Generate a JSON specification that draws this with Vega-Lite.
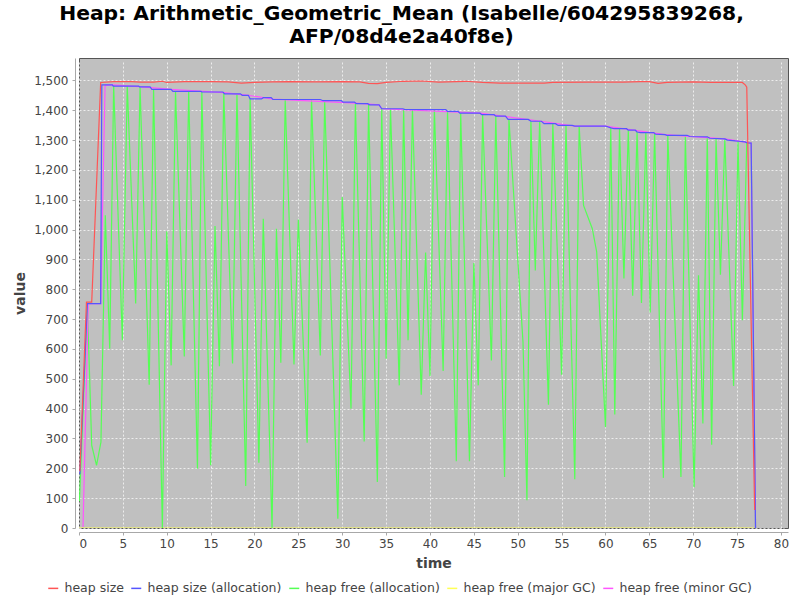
{
  "$schema": "https://vega.github.io/schema/vega-lite/v6.json",
  "autosize": "none",
  "width": 709,
  "height": 470,
  "padding": {"left": 79, "top": 58, "right": 12, "bottom": 72},
  "background": "white",
  "title": {
    "text": ["Heap: Arithmetic_Geometric_Mean (Isabelle/604295839268,", "AFP/08d4e2a40f8e)"],
    "font": "DejaVu Sans",
    "fontSize": 20.3,
    "fontWeight": "bold",
    "color": "black",
    "anchor": "middle",
    "dx": -32,
    "lineHeight": 23,
    "offset": 11
  },
  "config": {
    "view": {"fill": "#c0c0c0", "stroke": "#555555", "strokeWidth": 1},
    "axis": {
      "labelFont": "DejaVu Sans",
      "labelFontSize": 12,
      "labelColor": "#444444",
      "titleFont": "DejaVu Sans",
      "titleFontSize": 14,
      "titleFontWeight": "bold",
      "titleColor": "#444444",
      "domainColor": "#a8a8a8",
      "tickColor": "#a8a8a8",
      "tickSize": 3,
      "offset": 4,
      "gridColor": "white",
      "gridDash": [2, 2],
      "gridWidth": 0.8,
      "gridOpacity": 0.9
    }
  },
  "data": {
    "values": [
      {"series": "heap free (major GC)", "time": 0, "value": 0},
      {"series": "heap free (major GC)", "time": 76.9, "value": 0},

      {"series": "heap free (allocation)", "time": 0.05, "value": 90},
      {"series": "heap free (allocation)", "time": 0.95, "value": 752},
      {"series": "heap free (allocation)", "time": 1.45, "value": 277},
      {"series": "heap free (allocation)", "time": 2.0, "value": 210},
      {"series": "heap free (allocation)", "time": 2.5, "value": 288},
      {"series": "heap free (allocation)", "time": 3.0, "value": 1048},
      {"series": "heap free (allocation)", "time": 3.5, "value": 601},
      {"series": "heap free (allocation)", "time": 3.95, "value": 1483},
      {"series": "heap free (allocation)", "time": 4.94, "value": 629},
      {"series": "heap free (allocation)", "time": 5.5, "value": 1481},
      {"series": "heap free (allocation)", "time": 6.46, "value": 752},
      {"series": "heap free (allocation)", "time": 6.96, "value": 1478},
      {"series": "heap free (allocation)", "time": 8.0, "value": 480},
      {"series": "heap free (allocation)", "time": 8.5, "value": 1470},
      {"series": "heap free (allocation)", "time": 9.5, "value": 0},
      {"series": "heap free (allocation)", "time": 10.0, "value": 994},
      {"series": "heap free (allocation)", "time": 10.5, "value": 545},
      {"series": "heap free (allocation)", "time": 11.0, "value": 1463},
      {"series": "heap free (allocation)", "time": 12.0, "value": 575},
      {"series": "heap free (allocation)", "time": 12.5, "value": 1463},
      {"series": "heap free (allocation)", "time": 13.5, "value": 199},
      {"series": "heap free (allocation)", "time": 14.0, "value": 1461},
      {"series": "heap free (allocation)", "time": 15.0, "value": 210},
      {"series": "heap free (allocation)", "time": 15.5, "value": 1012},
      {"series": "heap free (allocation)", "time": 16.0, "value": 542},
      {"series": "heap free (allocation)", "time": 16.5, "value": 1458},
      {"series": "heap free (allocation)", "time": 17.5, "value": 551},
      {"series": "heap free (allocation)", "time": 18.0, "value": 1455},
      {"series": "heap free (allocation)", "time": 19.0, "value": 141},
      {"series": "heap free (allocation)", "time": 19.5, "value": 1440},
      {"series": "heap free (allocation)", "time": 20.5, "value": 219},
      {"series": "heap free (allocation)", "time": 21.0, "value": 1036},
      {"series": "heap free (allocation)", "time": 22.0, "value": 0},
      {"series": "heap free (allocation)", "time": 22.5, "value": 1003},
      {"series": "heap free (allocation)", "time": 23.0, "value": 554},
      {"series": "heap free (allocation)", "time": 23.5, "value": 1436},
      {"series": "heap free (allocation)", "time": 24.5, "value": 548},
      {"series": "heap free (allocation)", "time": 25.0, "value": 1034},
      {"series": "heap free (allocation)", "time": 26.0, "value": 286},
      {"series": "heap free (allocation)", "time": 26.5, "value": 1436},
      {"series": "heap free (allocation)", "time": 27.5, "value": 578},
      {"series": "heap free (allocation)", "time": 28.0, "value": 1432},
      {"series": "heap free (allocation)", "time": 29.5, "value": 31},
      {"series": "heap free (allocation)", "time": 30.0, "value": 1109},
      {"series": "heap free (allocation)", "time": 31.0, "value": 400},
      {"series": "heap free (allocation)", "time": 31.5, "value": 1424},
      {"series": "heap free (allocation)", "time": 32.5, "value": 290},
      {"series": "heap free (allocation)", "time": 33.0, "value": 1420},
      {"series": "heap free (allocation)", "time": 34.0, "value": 154},
      {"series": "heap free (allocation)", "time": 34.5, "value": 1405},
      {"series": "heap free (allocation)", "time": 35.0, "value": 567},
      {"series": "heap free (allocation)", "time": 35.5, "value": 1405},
      {"series": "heap free (allocation)", "time": 36.5, "value": 478},
      {"series": "heap free (allocation)", "time": 37.0, "value": 1404},
      {"series": "heap free (allocation)", "time": 37.5, "value": 629},
      {"series": "heap free (allocation)", "time": 38.0, "value": 1403},
      {"series": "heap free (allocation)", "time": 39.0, "value": 447},
      {"series": "heap free (allocation)", "time": 39.5, "value": 923},
      {"series": "heap free (allocation)", "time": 40.0, "value": 509},
      {"series": "heap free (allocation)", "time": 40.5, "value": 1402},
      {"series": "heap free (allocation)", "time": 41.5, "value": 526},
      {"series": "heap free (allocation)", "time": 42.0, "value": 1396},
      {"series": "heap free (allocation)", "time": 43.0, "value": 224},
      {"series": "heap free (allocation)", "time": 43.5, "value": 1390},
      {"series": "heap free (allocation)", "time": 44.5, "value": 224},
      {"series": "heap free (allocation)", "time": 45.0, "value": 888},
      {"series": "heap free (allocation)", "time": 45.5, "value": 478},
      {"series": "heap free (allocation)", "time": 46.0, "value": 1385},
      {"series": "heap free (allocation)", "time": 47.0, "value": 561},
      {"series": "heap free (allocation)", "time": 47.5, "value": 1380},
      {"series": "heap free (allocation)", "time": 48.5, "value": 171},
      {"series": "heap free (allocation)", "time": 49.0, "value": 1369},
      {"series": "heap free (allocation)", "time": 50.6, "value": 623},
      {"series": "heap free (allocation)", "time": 51.05, "value": 93},
      {"series": "heap free (allocation)", "time": 51.5, "value": 1363},
      {"series": "heap free (allocation)", "time": 52.0, "value": 863},
      {"series": "heap free (allocation)", "time": 52.5, "value": 1363},
      {"series": "heap free (allocation)", "time": 53.5, "value": 413},
      {"series": "heap free (allocation)", "time": 54.0, "value": 1355},
      {"series": "heap free (allocation)", "time": 55.0, "value": 514},
      {"series": "heap free (allocation)", "time": 55.5, "value": 1349},
      {"series": "heap free (allocation)", "time": 56.5, "value": 163},
      {"series": "heap free (allocation)", "time": 57.0, "value": 1347},
      {"series": "heap free (allocation)", "time": 57.5, "value": 1081},
      {"series": "heap free (allocation)", "time": 58.5, "value": 1003},
      {"series": "heap free (allocation)", "time": 59.0, "value": 925},
      {"series": "heap free (allocation)", "time": 60.0, "value": 338},
      {"series": "heap free (allocation)", "time": 60.6, "value": 1341},
      {"series": "heap free (allocation)", "time": 61.06, "value": 380},
      {"series": "heap free (allocation)", "time": 61.6, "value": 1338},
      {"series": "heap free (allocation)", "time": 62.1, "value": 836},
      {"series": "heap free (allocation)", "time": 62.6, "value": 1333},
      {"series": "heap free (allocation)", "time": 63.1, "value": 778},
      {"series": "heap free (allocation)", "time": 63.6, "value": 1327},
      {"series": "heap free (allocation)", "time": 64.1, "value": 754},
      {"series": "heap free (allocation)", "time": 64.6, "value": 1325},
      {"series": "heap free (allocation)", "time": 65.1, "value": 722},
      {"series": "heap free (allocation)", "time": 65.6, "value": 1322},
      {"series": "heap free (allocation)", "time": 66.6, "value": 168},
      {"series": "heap free (allocation)", "time": 67.1, "value": 1316},
      {"series": "heap free (allocation)", "time": 68.6, "value": 171},
      {"series": "heap free (allocation)", "time": 69.1, "value": 1316},
      {"series": "heap free (allocation)", "time": 70.1, "value": 137},
      {"series": "heap free (allocation)", "time": 70.6, "value": 847},
      {"series": "heap free (allocation)", "time": 71.1, "value": 350},
      {"series": "heap free (allocation)", "time": 71.6, "value": 1311},
      {"series": "heap free (allocation)", "time": 72.1, "value": 279},
      {"series": "heap free (allocation)", "time": 72.6, "value": 1305},
      {"series": "heap free (allocation)", "time": 73.1, "value": 849},
      {"series": "heap free (allocation)", "time": 73.6, "value": 1304},
      {"series": "heap free (allocation)", "time": 74.6, "value": 476},
      {"series": "heap free (allocation)", "time": 75.1, "value": 1296},
      {"series": "heap free (allocation)", "time": 75.6, "value": 696},
      {"series": "heap free (allocation)", "time": 76.1, "value": 1291},
      {"series": "heap free (allocation)", "time": 76.6, "value": 1290},
      {"series": "heap free (allocation)", "time": 77.1, "value": 0},

      {"series": "heap free (minor GC)", "time": 0.46, "value": 3},
      {"series": "heap free (minor GC)", "time": 1.06, "value": 752},
      {"series": "heap free (minor GC)", "time": 2.47, "value": 752},
      {"series": "heap free (minor GC)", "time": 2.97, "value": 1483},
      {"series": "heap free (minor GC)", "time": 3.8, "value": 1485},
      {"series": "heap free (minor GC)", "time": 6.9, "value": 1479},
      {"series": "heap free (minor GC)", "time": 10.5, "value": 1470},
      {"series": "heap free (minor GC)", "time": 16.5, "value": 1459},
      {"series": "heap free (minor GC)", "time": 19.3, "value": 1450},
      {"series": "heap free (minor GC)", "time": 22.1, "value": 1437},
      {"series": "heap free (minor GC)", "time": 31.5, "value": 1424},
      {"series": "heap free (minor GC)", "time": 34.2, "value": 1418},
      {"series": "heap free (minor GC)", "time": 34.5, "value": 1405},
      {"series": "heap free (minor GC)", "time": 45.7, "value": 1390},
      {"series": "heap free (minor GC)", "time": 51.2, "value": 1369},
      {"series": "heap free (minor GC)", "time": 56.5, "value": 1347},
      {"series": "heap free (minor GC)", "time": 60.0, "value": 1347},
      {"series": "heap free (minor GC)", "time": 66.8, "value": 1318},
      {"series": "heap free (minor GC)", "time": 73.6, "value": 1304},
      {"series": "heap free (minor GC)", "time": 76.6, "value": 1290},
      {"series": "heap free (minor GC)", "time": 77.1, "value": 0},

      {"series": "heap size (allocation)", "time": 0.1, "value": 180},
      {"series": "heap size (allocation)", "time": 0.95, "value": 752},
      {"series": "heap size (allocation)", "time": 2.47, "value": 752},
      {"series": "heap size (allocation)", "time": 2.6, "value": 1485},
      {"series": "heap size (allocation)", "time": 3.8, "value": 1485},
      {"series": "heap size (allocation)", "time": 3.9, "value": 1481},
      {"series": "heap size (allocation)", "time": 6.8, "value": 1481},
      {"series": "heap size (allocation)", "time": 6.9, "value": 1478},
      {"series": "heap size (allocation)", "time": 8.1, "value": 1478},
      {"series": "heap size (allocation)", "time": 8.3, "value": 1470},
      {"series": "heap size (allocation)", "time": 10.5, "value": 1470},
      {"series": "heap size (allocation)", "time": 10.7, "value": 1463},
      {"series": "heap size (allocation)", "time": 13.9, "value": 1463},
      {"series": "heap size (allocation)", "time": 14.0, "value": 1461},
      {"series": "heap size (allocation)", "time": 16.4, "value": 1461},
      {"series": "heap size (allocation)", "time": 16.6, "value": 1455},
      {"series": "heap size (allocation)", "time": 18.4, "value": 1455},
      {"series": "heap size (allocation)", "time": 18.6, "value": 1450},
      {"series": "heap size (allocation)", "time": 19.3, "value": 1450},
      {"series": "heap size (allocation)", "time": 19.5, "value": 1438},
      {"series": "heap size (allocation)", "time": 20.8, "value": 1438},
      {"series": "heap size (allocation)", "time": 21.0, "value": 1442},
      {"series": "heap size (allocation)", "time": 21.9, "value": 1442},
      {"series": "heap size (allocation)", "time": 22.1, "value": 1436},
      {"series": "heap size (allocation)", "time": 27.5, "value": 1436},
      {"series": "heap size (allocation)", "time": 27.8, "value": 1432},
      {"series": "heap size (allocation)", "time": 29.9, "value": 1432},
      {"series": "heap size (allocation)", "time": 30.1, "value": 1427},
      {"series": "heap size (allocation)", "time": 31.4, "value": 1427},
      {"series": "heap size (allocation)", "time": 31.6, "value": 1422},
      {"series": "heap size (allocation)", "time": 32.9, "value": 1422},
      {"series": "heap size (allocation)", "time": 33.1, "value": 1418},
      {"series": "heap size (allocation)", "time": 34.2, "value": 1418},
      {"series": "heap size (allocation)", "time": 34.5, "value": 1405},
      {"series": "heap size (allocation)", "time": 36.9, "value": 1405},
      {"series": "heap size (allocation)", "time": 37.1, "value": 1403},
      {"series": "heap size (allocation)", "time": 41.8, "value": 1402},
      {"series": "heap size (allocation)", "time": 42.0, "value": 1396},
      {"series": "heap size (allocation)", "time": 43.2, "value": 1396},
      {"series": "heap size (allocation)", "time": 43.4, "value": 1390},
      {"series": "heap size (allocation)", "time": 45.7, "value": 1390},
      {"series": "heap size (allocation)", "time": 45.9, "value": 1385},
      {"series": "heap size (allocation)", "time": 47.3, "value": 1385},
      {"series": "heap size (allocation)", "time": 47.5, "value": 1380},
      {"series": "heap size (allocation)", "time": 48.6, "value": 1380},
      {"series": "heap size (allocation)", "time": 48.9, "value": 1369},
      {"series": "heap size (allocation)", "time": 51.2, "value": 1369},
      {"series": "heap size (allocation)", "time": 51.5, "value": 1363},
      {"series": "heap size (allocation)", "time": 52.7, "value": 1363},
      {"series": "heap size (allocation)", "time": 53.0, "value": 1355},
      {"series": "heap size (allocation)", "time": 54.3, "value": 1355},
      {"series": "heap size (allocation)", "time": 54.6, "value": 1349},
      {"series": "heap size (allocation)", "time": 56.2, "value": 1349},
      {"series": "heap size (allocation)", "time": 56.5, "value": 1347},
      {"series": "heap size (allocation)", "time": 60.0, "value": 1347},
      {"series": "heap size (allocation)", "time": 60.6, "value": 1341},
      {"series": "heap size (allocation)", "time": 61.0, "value": 1338},
      {"series": "heap size (allocation)", "time": 62.4, "value": 1338},
      {"series": "heap size (allocation)", "time": 62.6, "value": 1333},
      {"series": "heap size (allocation)", "time": 63.4, "value": 1333},
      {"series": "heap size (allocation)", "time": 63.6, "value": 1327},
      {"series": "heap size (allocation)", "time": 64.0, "value": 1325},
      {"series": "heap size (allocation)", "time": 65.5, "value": 1325},
      {"series": "heap size (allocation)", "time": 65.7, "value": 1320},
      {"series": "heap size (allocation)", "time": 66.8, "value": 1318},
      {"series": "heap size (allocation)", "time": 67.0, "value": 1316},
      {"series": "heap size (allocation)", "time": 69.3, "value": 1316},
      {"series": "heap size (allocation)", "time": 69.6, "value": 1312},
      {"series": "heap size (allocation)", "time": 71.6, "value": 1311},
      {"series": "heap size (allocation)", "time": 71.9, "value": 1306},
      {"series": "heap size (allocation)", "time": 73.6, "value": 1304},
      {"series": "heap size (allocation)", "time": 73.9, "value": 1300},
      {"series": "heap size (allocation)", "time": 74.8, "value": 1297},
      {"series": "heap size (allocation)", "time": 75.2, "value": 1296},
      {"series": "heap size (allocation)", "time": 75.9, "value": 1294},
      {"series": "heap size (allocation)", "time": 76.1, "value": 1291},
      {"series": "heap size (allocation)", "time": 76.6, "value": 1290},
      {"series": "heap size (allocation)", "time": 77.1, "value": 0},

      {"series": "heap size", "time": 0.1, "value": 190},
      {"series": "heap size", "time": 0.85, "value": 757},
      {"series": "heap size", "time": 1.45, "value": 757},
      {"series": "heap size", "time": 2.47, "value": 1493},
      {"series": "heap size", "time": 4, "value": 1496},
      {"series": "heap size", "time": 6, "value": 1496},
      {"series": "heap size", "time": 7, "value": 1494},
      {"series": "heap size", "time": 8.5, "value": 1494},
      {"series": "heap size", "time": 9.5, "value": 1497},
      {"series": "heap size", "time": 10, "value": 1493},
      {"series": "heap size", "time": 12, "value": 1496},
      {"series": "heap size", "time": 15, "value": 1496},
      {"series": "heap size", "time": 17, "value": 1495},
      {"series": "heap size", "time": 18.5, "value": 1491},
      {"series": "heap size", "time": 20, "value": 1493},
      {"series": "heap size", "time": 22, "value": 1495},
      {"series": "heap size", "time": 24, "value": 1496},
      {"series": "heap size", "time": 27, "value": 1495},
      {"series": "heap size", "time": 30, "value": 1496},
      {"series": "heap size", "time": 32, "value": 1495},
      {"series": "heap size", "time": 33, "value": 1490},
      {"series": "heap size", "time": 34, "value": 1489},
      {"series": "heap size", "time": 35, "value": 1493},
      {"series": "heap size", "time": 37, "value": 1497},
      {"series": "heap size", "time": 39, "value": 1498},
      {"series": "heap size", "time": 41, "value": 1494},
      {"series": "heap size", "time": 44, "value": 1497},
      {"series": "heap size", "time": 46, "value": 1493},
      {"series": "heap size", "time": 48, "value": 1491},
      {"series": "heap size", "time": 53, "value": 1491},
      {"series": "heap size", "time": 54, "value": 1493},
      {"series": "heap size", "time": 58, "value": 1494},
      {"series": "heap size", "time": 62, "value": 1494},
      {"series": "heap size", "time": 64, "value": 1496},
      {"series": "heap size", "time": 65, "value": 1496},
      {"series": "heap size", "time": 66, "value": 1490},
      {"series": "heap size", "time": 67, "value": 1493},
      {"series": "heap size", "time": 70, "value": 1495},
      {"series": "heap size", "time": 72, "value": 1493},
      {"series": "heap size", "time": 75.6, "value": 1493},
      {"series": "heap size", "time": 75.95, "value": 1484},
      {"series": "heap size", "time": 76.1, "value": 1477},
      {"series": "heap size", "time": 77.0, "value": 60}
    ]
  },
  "encoding": {
    "x": {
      "field": "time",
      "type": "quantitative",
      "title": "time",
      "scale": {"domain": [0, 80.8], "nice": false, "zero": false},
      "axis": {
        "values": [0, 5, 10, 15, 20, 25, 30, 35, 40, 45, 50, 55, 60, 65, 70, 75, 80],
        "labelPadding": 3,
        "titlePadding": 7
      }
    },
    "y": {
      "field": "value",
      "type": "quantitative",
      "title": "value",
      "scale": {"domain": [0, 1575], "nice": false},
      "axis": {
        "values": [0, 100, 200, 300, 400, 500, 600, 700, 800, 900, 1000, 1100, 1200, 1300, 1400, 1500],
        "format": ",d",
        "labelPadding": 4,
        "titlePadding": 6
      }
    },
    "color": {
      "field": "series",
      "type": "nominal",
      "scale": {
        "domain": ["heap size", "heap size (allocation)", "heap free (allocation)", "heap free (major GC)", "heap free (minor GC)"],
        "range": ["#ff5555", "#5555ff", "#55ff55", "#ffff55", "#ff55ff"]
      },
      "legend": {
        "orient": "none",
        "legendX": -32,
        "legendY": 524,
        "direction": "horizontal",
        "columns": 5,
        "title": null,
        "symbolType": "stroke",
        "symbolSize": 100,
        "symbolStrokeWidth": 1.5,
        "labelFont": "DejaVu Sans",
        "labelFontSize": 12.5,
        "labelColor": "#444444",
        "labelOffset": 5,
        "columnPadding": 4
      }
    }
  },
  "layer": [
    {"transform": [{"filter": "datum.series == 'heap free (major GC)'"}], "mark": {"type": "line", "strokeWidth": 1.2, "clip": true}},
    {"transform": [{"filter": "datum.series == 'heap free (allocation)'"}], "mark": {"type": "line", "strokeWidth": 1.2, "clip": true}},
    {"transform": [{"filter": "datum.series == 'heap free (minor GC)'"}], "mark": {"type": "line", "strokeWidth": 1.2, "clip": true}},
    {"transform": [{"filter": "datum.series == 'heap size (allocation)'"}], "mark": {"type": "line", "strokeWidth": 1.2, "clip": true}},
    {"transform": [{"filter": "datum.series == 'heap size'"}], "mark": {"type": "line", "strokeWidth": 1.2, "clip": true}}
  ]
}
